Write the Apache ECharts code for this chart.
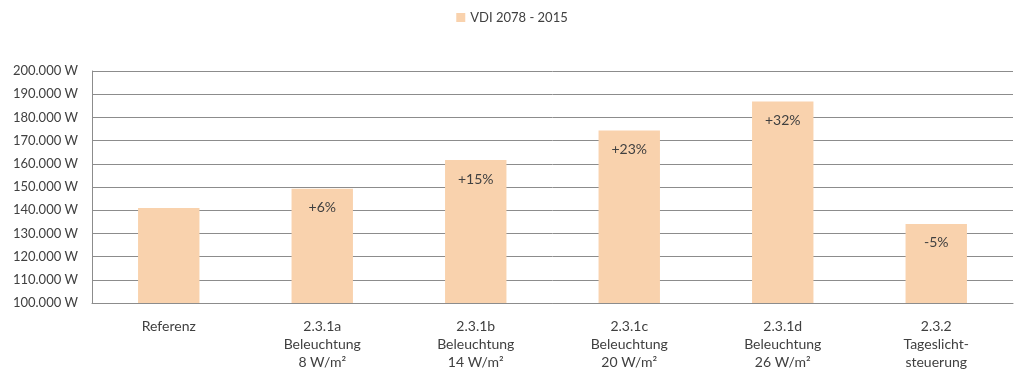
<!DOCTYPE html>
<html>
<head>
<meta charset="utf-8">
<script src="https://cdn.jsdelivr.net/npm/echarts@6/dist/echarts.min.js"></script>
<style>
  html, body { margin: 0; padding: 0; background: #fff; }
  #main { width: 1024px; height: 376px; }
</style>
</head>
<body>
<div id="main"></div>
<script>
// categories and values
var categories = [
    'Referenz',
    '2.3.1a\nBeleuchtung\n8 W/m²',
    '2.3.1b\nBeleuchtung\n14 W/m²',
    '2.3.1c\nBeleuchtung\n20 W/m²',
    '2.3.1d\nBeleuchtung\n26 W/m²',
    '2.3.2\nTageslicht-\nsteuerung'
];
var seriesName = 'VDI 2078 - 2015';
var values = [141000, 149200, 161600, 174300, 186900, 134100];
var changeLabels = ['', '+6%', '+15%', '+23%', '+32%', '-5%'];

var font = "Lato, 'Liberation Sans', Arial, sans-serif";
var textColor = '#404040';

var chartDom = document.getElementById('main');
var myChart = echarts.init(chartDom);

var option = {
    animation: false,
    textStyle: { fontFamily: font },
    legend: {
        top: 6,
        left: 'center',
        itemWidth: 9,
        itemHeight: 9,
        icon: 'rect',
        itemGap: 6,
        textStyle: { fontFamily: font, fontSize: 13, color: textColor },
        data: [seriesName]
    },
    grid: {
        left: 92,
        right: 11,
        top: 71,
        bottom: 73
    },
    xAxis: {
        type: 'category',
        data: categories,
        axisLine: { lineStyle: { color: '#8c8c8c', width: 1 } },
        axisTick: { show: false },
        axisLabel: {
            fontFamily: font,
            fontSize: 14,
            color: textColor,
            lineHeight: 18,
            margin: 14,
            interval: 0
        }
    },
    yAxis: {
        type: 'value',
        min: 100000,
        max: 200000,
        interval: 10000,
        axisLine: { show: true, lineStyle: { color: '#8c8c8c', width: 1 } },
        axisTick: { show: false },
        splitLine: { lineStyle: { color: '#8c8c8c', width: 1 } },
        axisLabel: {
            fontFamily: font,
            fontSize: 13,
            color: textColor,
            margin: 14,
            formatter: function (v) {
                return v.toLocaleString('de-DE') + ' W';
            }
        }
    },
    series: [
        {
            name: seriesName,
            type: 'bar',
            barWidth: '40%',
            itemStyle: { color: '#F9D2AD' },
            data: values,
            label: {
                show: true,
                position: 'insideTop',
                distance: 12,
                fontFamily: font,
                fontSize: 14,
                color: textColor,
                formatter: function (p) {
                    return changeLabels[p.dataIndex];
                }
            }
        }
    ]
};

option && myChart.setOption(option);
</script>
</body>
</html>
